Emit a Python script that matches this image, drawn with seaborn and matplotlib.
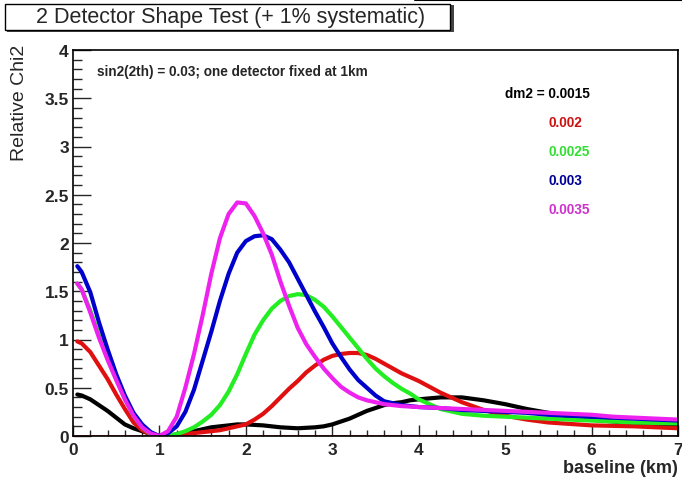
import numpy as np
import pandas as pd
import matplotlib
matplotlib.use("Agg")
import matplotlib.pyplot as plt
import seaborn as sns
from matplotlib.patches import Rectangle
from matplotlib.lines import Line2D

# ==============================================================================
# Datos
# ==============================================================================
baseline = [0.05, 0.1, 0.2, 0.3, 0.4, 0.5, 0.6, 0.7, 0.8, 0.9, 1.0,
            1.1, 1.2, 1.3, 1.4, 1.5, 1.6, 1.7, 1.8, 1.9, 2.0,
            2.1, 2.2, 2.3, 2.4, 2.5, 2.6, 2.7, 2.8, 2.9, 3.0,
            3.1, 3.2, 3.3, 3.4, 3.5, 3.6, 3.7, 3.8, 3.9, 4.0,
            4.25, 4.5, 4.75, 5.0, 5.25, 5.5, 5.75, 6.0, 6.25, 6.5, 6.75, 7.0]

chi2_0015 = [0.43, 0.42, 0.38, 0.32, 0.26, 0.19, 0.12, 0.08, 0.05, 0.02, 0.0,
             0.005, 0.015, 0.03, 0.05, 0.07, 0.09, 0.10, 0.11, 0.12, 0.12,
             0.115, 0.11, 0.10, 0.09, 0.085, 0.08, 0.085, 0.09, 0.10, 0.12,
             0.15, 0.18, 0.22, 0.26, 0.29, 0.32, 0.34, 0.35, 0.37, 0.38,
             0.40, 0.40, 0.37, 0.33, 0.28, 0.24, 0.20, 0.17, 0.15, 0.13, 0.11, 0.10]
chi2_002 = [0.98, 0.96, 0.87, 0.73, 0.59, 0.43, 0.28, 0.14, 0.06, 0.015, 0.0,
            0.005, 0.01, 0.02, 0.03, 0.04, 0.05, 0.06, 0.08, 0.10, 0.12,
            0.17, 0.23, 0.31, 0.40, 0.49, 0.57, 0.66, 0.73, 0.79, 0.83,
            0.85, 0.86, 0.86, 0.84, 0.80, 0.75, 0.70, 0.65, 0.61, 0.57,
            0.45, 0.35, 0.27, 0.21, 0.17, 0.14, 0.125, 0.11, 0.105, 0.10, 0.09, 0.08]
chi2_0025 = [1.58, 1.52, 1.30, 1.05, 0.80, 0.59, 0.39, 0.21, 0.09, 0.02, 0.0,
             0.005, 0.02, 0.05, 0.09, 0.15, 0.22, 0.32, 0.46, 0.64, 0.85,
             1.05, 1.20, 1.32, 1.40, 1.45, 1.47, 1.46, 1.41, 1.34, 1.24,
             1.13, 1.02, 0.91, 0.80, 0.70, 0.62, 0.55, 0.49, 0.44, 0.38,
             0.28, 0.23, 0.21, 0.20, 0.19, 0.18, 0.17, 0.16, 0.15, 0.14, 0.135, 0.13]
chi2_003 = [1.76, 1.70, 1.49, 1.18, 0.90, 0.64, 0.42, 0.24, 0.12, 0.04, 0.0,
            0.03, 0.10, 0.25, 0.48, 0.78, 1.08, 1.40, 1.68, 1.90, 2.02,
            2.07, 2.08, 2.04, 1.93, 1.80, 1.63, 1.46, 1.29, 1.13, 0.96,
            0.82, 0.69, 0.58, 0.50, 0.42, 0.36, 0.34, 0.32, 0.31, 0.30,
            0.29, 0.27, 0.26, 0.25, 0.24, 0.22, 0.21, 0.20, 0.19, 0.18, 0.17, 0.16]
chi2_0035 = [1.58, 1.52, 1.28, 1.02, 0.79, 0.58, 0.38, 0.21, 0.09, 0.025, 0.0,
             0.05, 0.20, 0.50, 0.85, 1.25, 1.68, 2.05, 2.30, 2.42, 2.41,
             2.28, 2.10, 1.88, 1.60, 1.35, 1.12, 0.95, 0.82, 0.70, 0.60,
             0.51, 0.45, 0.40, 0.37, 0.35, 0.33, 0.32, 0.31, 0.305, 0.30,
             0.29, 0.28, 0.27, 0.26, 0.25, 0.24, 0.23, 0.22, 0.20, 0.19, 0.18, 0.17]

dm2_labels = ["0.0015", "0.002", "0.0025", "0.003", "0.0035"]
colores_linea = ["#000000", "#e01010", "#22ee22", "#0000cc", "#ee22ee"]
colores_texto = ["#000000", "#cc1111", "#33dd33", "#000099", "#cc33cc"]

series = [chi2_0015, chi2_002, chi2_0025, chi2_003, chi2_0035]
df = pd.concat([pd.DataFrame({"baseline": baseline, "chi2": s, "dm2": lab})
                for s, lab in zip(series, dm2_labels)], ignore_index=True)

# ==============================================================================
# Figura
# ==============================================================================
sns.set_style("ticks")
plt.rcParams['font.family'] = ['Liberation Sans', 'DejaVu Sans']

fig = plt.figure(figsize=(6.82, 4.81), dpi=100)
ax = fig.add_axes([73 / 682, 44 / 481, 605 / 682, 386 / 481])

sns.lineplot(data=df, x="baseline", y="chi2", hue="dm2", hue_order=dm2_labels,
             palette=colores_linea, estimator=None, sort=False, linewidth=3,
             legend=False, ax=ax, solid_joinstyle="round", solid_capstyle="round")

ax.axhline(0, color="#cc2222", lw=1.2, zorder=1)
ax.axvline(7, color="#cc2222", lw=1.2, zorder=1)

ax.set_xlim(0, 7)
ax.set_ylim(0, 4)
ax.set_xticks(range(0, 8))
ax.set_xticks(np.arange(0, 7.01, 0.2), minor=True)
ax.set_yticks(np.arange(0, 4.01, 0.5))
ax.set_yticks(np.arange(0, 4.01, 0.1), minor=True)
ax.set_yticklabels(["0", "0.5", "1", "1.5", "2", "2.5", "3", "3.5", "4"])

ax.tick_params(axis="both", which="both", direction="in", labelsize=12.5, width=1)
ax.tick_params(axis="y", which="major", length=13, pad=3)
ax.tick_params(axis="y", which="minor", length=6.5)
ax.tick_params(axis="x", which="major", length=8, pad=4)
ax.tick_params(axis="x", which="minor", length=4)
for lab in ax.get_xticklabels() + ax.get_yticklabels():
    lab.set_fontweight("bold")
for sp in ax.spines.values():
    sp.set_linewidth(1.2)
    sp.set_color("black")

ax.set_xlabel("baseline (km)", fontsize=13, fontweight="bold", loc="right")
ax.xaxis.set_label_coords(1.0, -0.06)
ax.set_ylabel("Relative Chi2", fontsize=14, loc="top")
ax.yaxis.set_label_coords(-0.075, 1.015)

# Textos dentro del grafico
ax.text(0.28, 3.78, "sin2(2th) = 0.03; one detector fixed at 1km", fontsize=9.8,
        fontweight="bold", va="center", ha="left")
ax.text(5.0, 3.55, "dm2 = 0.0015", fontsize=9.8, fontweight="bold", va="center",
        ha="left", color=colores_texto[0])
for i, (lab, c) in enumerate(zip(dm2_labels[1:], colores_texto[1:])):
    ax.text(5.5, 3.25 - 0.3 * i, lab, fontsize=9.8, fontweight="bold", va="center",
            ha="left", color=c)

# Caja del titulo (estilo ROOT)
fig.add_artist(Rectangle((7 / 682, 1 - 33 / 481), 447 / 682, 27 / 481,
                         transform=fig.transFigure, facecolor="#444444",
                         edgecolor="none"))
fig.add_artist(Rectangle((5 / 682, 1 - 31 / 481), 445 / 682, 26 / 481,
                         transform=fig.transFigure, facecolor="white",
                         edgecolor="black", lw=1))
fig.text(231 / 682, 1 - 18 / 481, "2 Detector Shape Test (+ 1% systematic)",
         fontsize=15.5, ha="center", va="center")
fig.add_artist(Line2D([415 / 682, 1], [0.998, 0.998], transform=fig.transFigure,
                      color="black", lw=1.5))

fig.savefig("out.png", dpi=100)
